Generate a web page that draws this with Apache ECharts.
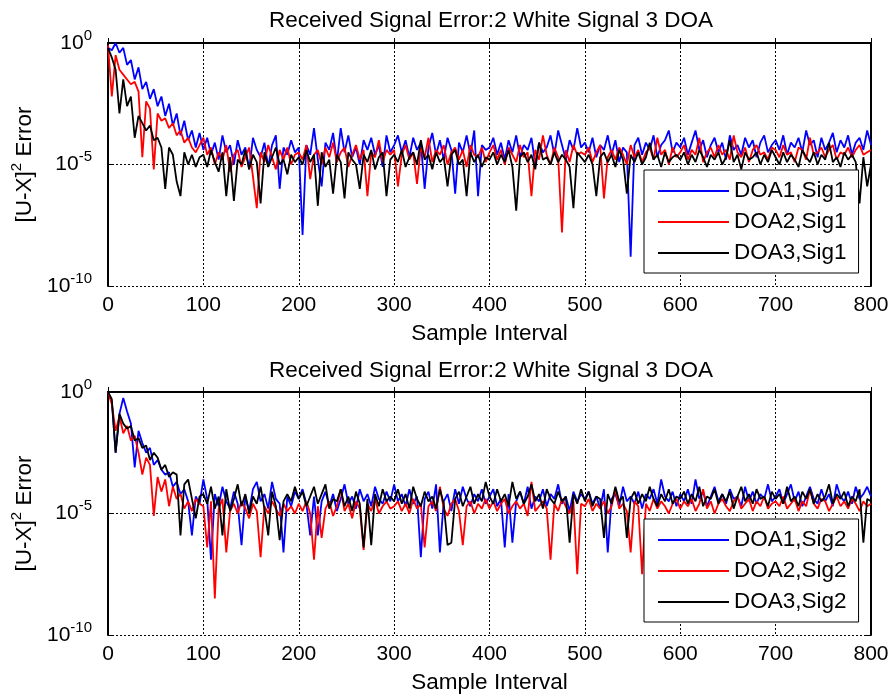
<!DOCTYPE html>
<html lang="en" style="height: 100%;width: 100%">
<head>
    <meta charset="utf-8">
</head>
<body style="height: 100%;width: 100%; margin: 0; background: #fff">
<div id="container" style="width: 893px;height: 700px;"></div>
<script type="text/javascript" src="https://registry.npmmirror.com/echarts/5.5.1/files/dist/echarts.min.js"></script>
<script type="text/javascript">
    // sample index of each plotted point (every 4th sample of 0..800)
    var samples = [
        0,4,8,12,16,20,24,28,32,36,40,44,48,52,56,60,64,68,72,76,80,84,88,92,96,
        100,104,108,112,116,120,124,128,132,136,140,144,148,152,156,160,164,168,172,176,180,184,188,192,196,
        200,204,208,212,216,220,224,228,232,236,240,244,248,252,256,260,264,268,272,276,280,284,288,292,296,
        300,304,308,312,316,320,324,328,332,336,340,344,348,352,356,360,364,368,372,376,380,384,388,392,396,
        400,404,408,412,416,420,424,428,432,436,440,444,448,452,456,460,464,468,472,476,480,484,488,492,496,
        500,504,508,512,516,520,524,528,532,536,540,544,548,552,556,560,564,568,572,576,580,584,588,592,596,
        600,604,608,612,616,620,624,628,632,636,640,644,648,652,656,660,664,668,672,676,680,684,688,692,696,
        700,704,708,712,716,720,724,728,732,736,740,744,748,752,756,760,764,768,772,776,780,784,788,792,796,
        800
    ];

    // log10 of the squared error (the exponent the y axis shows)
    var doa1Sig1 = [
        -0.2,-0.3,0.0,-0.4,-0.2,-0.9,-0.7,-1.5,-1.0,-1.9,-1.6,-2.3,-1.9,-2.6,-2.2,-3.0,-2.5,-3.4,-2.9,-3.8,-3.2,-4.0,-3.6,-4.3,-3.7,
        -4.4,-3.9,-4.6,-4.1,-4.8,-3.8,-4.5,-4.2,-5.0,-4.0,-4.6,-4.3,-5.2,-3.9,-4.4,-4.7,-4.1,-5.1,-4.2,-3.8,-6.0,-4.3,-4.6,-4.0,-4.5,
        -4.3,-7.9,-4.2,-4.6,-3.5,-4.8,-5.9,-4.1,-4.4,-3.7,-4.9,-3.5,-4.5,-3.8,-4.7,-4.3,-5.0,-4.0,-4.4,-3.9,-4.6,-4.2,-5.1,-3.8,-4.5,
        -4.2,-3.8,-4.5,-4.0,-4.7,-3.9,-4.4,-4.1,-6.0,-4.3,-3.7,-4.6,-4.0,-4.8,-3.9,-4.4,-6.2,-4.1,-4.5,-3.8,-4.6,-3.6,-6.3,-4.2,-4.4,
        -4.3,-3.9,-4.6,-4.1,-4.8,-4.0,-4.5,-3.8,-4.7,-4.2,-4.4,-3.9,-5.0,-4.1,-4.5,-4.3,-3.8,-4.6,-3.6,-4.2,-4.8,-4.0,-4.4,-3.5,-4.3,
        -4.1,-4.5,-3.9,-4.7,-4.2,-4.4,-3.8,-4.6,-4.0,-4.9,-4.3,-4.5,-8.8,-4.2,-3.9,-4.6,-4.1,-4.4,-3.8,-4.7,-4.2,-4.0,-3.6,-4.5,-4.1,
        -4.3,-3.9,-4.6,-4.1,-3.6,-4.4,-4.0,-4.7,-4.2,-3.9,-4.5,-4.1,-4.8,-3.8,-4.4,-4.2,-4.6,-3.9,-4.3,-4.0,-4.7,-4.1,-3.8,-4.5,-4.2,
        -4.0,-4.4,-3.8,-4.6,-4.1,-4.3,-3.9,-4.5,-3.6,-4.2,-4.0,-4.7,-3.9,-4.4,-4.1,-3.7,-4.5,-4.0,-4.3,-3.8,-4.6,-4.1,-3.9,-4.4,-3.6,
        -4.2
    ];
    var doa2Sig1 = [
        -0.1,-2.2,-0.5,-1.1,-1.3,-1.5,-1.7,-1.6,-2.0,-4.7,-2.4,-2.7,-5.2,-2.9,-3.2,-3.1,-3.5,-3.3,-3.8,-3.6,-4.1,-3.9,-4.3,-4.5,-4.2,
        -3.9,-4.6,-4.3,-5.0,-4.5,-4.8,-4.2,-5.3,-4.6,-4.4,-5.1,-4.7,-4.3,-5.5,-6.8,-4.5,-4.9,-4.2,-4.7,-5.2,-4.4,-4.8,-4.3,-5.0,-4.6,
        -4.5,-4.8,-4.2,-5.6,-4.6,-4.4,-5.0,-4.3,-4.7,-4.1,-4.9,-4.5,-4.3,-5.1,-4.6,-4.2,-4.8,-4.4,-6.3,-4.5,-4.7,-4.0,-4.9,-4.4,-4.6,
        -4.4,-5.9,-4.6,-4.2,-4.8,-4.5,-5.8,-4.3,-4.7,-3.9,-4.9,-4.4,-4.6,-4.2,-5.0,-4.5,-4.3,-4.8,-4.4,-5.1,-4.2,-4.6,-4.7,-4.3,-4.9,
        -4.5,-4.2,-4.8,-4.4,-5.0,-4.3,-4.6,-4.9,-4.2,-4.7,-4.5,-6.3,-4.4,-4.8,-3.8,-4.6,-5.0,-4.3,-4.7,-7.8,-4.4,-4.9,-4.2,-4.6,-4.5,
        -4.6,-4.3,-4.9,-4.5,-4.2,-6.4,-4.7,-4.4,-4.8,-4.3,-4.6,-5.0,-4.2,-4.7,-4.4,-4.9,-4.5,-4.3,-4.8,-3.9,-4.6,-4.4,-5.0,-4.3,-4.7,
        -4.5,-4.2,-4.8,-4.4,-4.6,-3.9,-4.9,-4.5,-4.3,-4.7,-4.2,-4.6,-4.4,-4.8,-3.8,-4.5,-4.7,-4.3,-4.9,-4.4,-4.2,-4.6,-4.5,-4.8,-4.3,
        -4.4,-4.7,-4.2,-4.6,-4.5,-4.9,-4.3,-4.4,-4.8,-3.9,-4.6,-4.5,-4.3,-4.7,-4.4,-4.2,-4.8,-4.5,-4.6,-4.3,-4.7,-4.4,-4.2,-4.6,-4.5,
        -4.4
    ];
    var doa3Sig1 = [
        -0.2,-0.6,-1.1,-2.9,-1.5,-2.6,-2.2,-3.9,-3.0,-3.3,-3.6,-3.4,-4.0,-3.9,-4.3,-6.0,-4.3,-4.6,-5.7,-6.3,-4.5,-5.0,-4.6,-5.1,-4.7,
        -4.6,-5.1,-4.4,-4.9,-5.3,-4.5,-6.3,-4.7,-6.5,-4.8,-5.0,-4.4,-5.2,-4.6,-4.9,-6.6,-4.5,-5.1,-4.7,-4.3,-5.0,-4.8,-5.4,-4.6,-4.9,
        -4.7,-5.0,-4.4,-4.9,-4.6,-6.7,-4.5,-5.1,-4.8,-6.2,-4.6,-4.9,-6.4,-4.5,-4.8,-5.0,-6.0,-4.6,-4.9,-4.4,-5.2,-4.7,-4.5,-6.3,-4.8,
        -4.6,-4.9,-4.4,-5.1,-4.7,-4.5,-5.0,-4.0,-4.8,-4.6,-5.2,-4.5,-4.9,-4.7,-5.9,-4.6,-4.4,-5.0,-4.8,-6.3,-4.5,-4.9,-4.6,-5.1,-4.7,
        -4.8,-4.5,-5.0,-4.6,-4.9,-4.4,-5.1,-6.9,-4.7,-4.5,-4.9,-4.6,-5.2,-4.1,-4.8,-4.7,-5.0,-4.5,-4.9,-4.6,-4.8,-5.1,-6.8,-4.5,-4.7,
        -4.9,-4.6,-5.0,-6.3,-4.7,-4.5,-4.9,-4.6,-5.1,-4.4,-4.8,-6.2,-4.6,-4.9,-4.5,-5.0,-4.7,-4.1,-4.8,-4.6,-5.1,-4.5,-4.9,-4.7,-4.6,
        -4.8,-4.5,-5.0,-4.6,-4.9,-4.4,-4.7,-5.1,-4.6,-4.8,-4.5,-5.0,-4.7,-4.0,-4.9,-4.6,-5.2,-4.5,-4.8,-4.7,-4.5,-5.0,-4.6,-4.9,-4.4,
        -4.7,-5.0,-4.5,-4.9,-4.6,-4.8,-5.1,-4.4,-4.7,-4.9,-4.5,-5.0,-4.6,-4.8,-4.1,-4.9,-4.7,-5.1,-4.5,-4.8,-4.6,-4.9,-6.6,-4.7,-5.9,
        -5.0
    ];
    var doa1Sig2 = [
        0.0,-0.4,-2.5,-0.9,-0.25,-0.8,-1.3,-3.1,-1.6,-2.1,-2.5,-2.3,-3.0,-2.8,-3.2,-3.4,-3.3,-3.9,-3.7,-4.2,-4.0,-4.5,-5.9,-4.3,-4.6,
        -3.6,-4.4,-6.9,-4.2,-4.7,-3.9,-4.5,-4.8,-4.1,-4.6,-6.3,-4.3,-4.9,-4.0,-3.7,-4.5,-4.2,-4.8,-3.7,-4.4,-4.6,-6.6,-4.3,-4.7,-4.1,
        -4.4,-4.0,-4.6,-5.9,-4.3,-5.9,-4.5,-4.1,-4.7,-4.2,-4.9,-4.4,-3.8,-4.6,-4.3,-4.8,-4.0,-4.5,-4.2,-4.7,-3.9,-4.4,-4.6,-4.1,-4.5,
        -3.8,-4.5,-4.2,-4.7,-4.0,-4.6,-4.3,-6.8,-4.4,-4.1,-4.8,-3.8,-6.6,-4.5,-4.2,-4.9,-4.0,-4.6,-3.9,-4.4,-4.7,-4.2,-4.5,-4.0,-4.6,
        -4.3,-4.0,-4.7,-4.4,-6.4,-4.2,-6.2,-4.5,-4.1,-4.6,-3.9,-4.8,-4.3,-4.5,-4.0,-4.7,-4.2,-4.4,-3.8,-4.6,-4.3,-4.9,-4.1,-4.5,-4.2,
        -4.4,-4.1,-4.6,-4.3,-4.8,-4.0,-6.6,-4.4,-4.2,-4.7,-3.9,-4.5,-4.3,-4.6,-4.1,-4.8,-4.2,-4.4,-4.0,-4.6,-3.6,-4.3,-4.5,-4.1,-4.7,
        -4.2,-4.5,-4.0,-4.6,-3.6,-4.4,-4.1,-4.7,-4.3,-3.9,-4.5,-4.2,-4.6,-4.0,-4.4,-4.3,-4.7,-3.9,-4.5,-4.1,-4.6,-4.2,-4.4,-3.8,-4.5,
        -4.3,-4.0,-4.6,-4.2,-3.8,-4.5,-4.1,-4.7,-4.3,-3.9,-4.4,-4.6,-4.0,-4.5,-4.2,-4.7,-3.8,-4.3,-4.5,-4.1,-4.6,-3.9,-4.4,-4.2,-3.9,
        -4.3
    ];
    var doa2Sig2 = [
        0.0,-0.5,-1.6,-1.0,-1.7,-1.4,-2.0,-1.8,-2.5,-3.4,-2.7,-3.0,-5.1,-3.5,-4.1,-3.6,-4.7,-3.9,-4.4,-4.2,-4.8,-4.5,-4.9,-4.4,-4.6,
        -4.7,-6.4,-4.5,-8.5,-4.8,-4.4,-6.6,-4.9,-4.6,-5.0,-4.5,-4.8,-5.2,-4.6,-4.9,-6.8,-4.7,-5.0,-4.5,-4.8,-5.1,-4.6,-4.9,-4.7,-5.0,
        -4.6,-4.9,-4.5,-5.0,-6.9,-4.7,-6.0,-4.8,-4.5,-5.1,-4.7,-4.0,-4.9,-4.6,-5.2,-4.5,-4.8,-6.5,-4.6,-4.9,-4.4,-5.0,-4.7,-4.5,-4.8,
        -4.7,-4.5,-4.9,-4.6,-5.0,-4.4,-4.8,-4.6,-6.4,-4.7,-4.5,-4.9,-3.9,-4.8,-5.1,-4.6,-4.4,-4.9,-6.3,-4.7,-4.5,-5.0,-4.6,-4.8,-4.4,
        -4.8,-4.5,-4.9,-4.6,-4.4,-5.0,-4.7,-4.5,-4.8,-4.6,-5.1,-3.7,-4.9,-4.7,-4.5,-4.8,-6.9,-4.6,-4.9,-4.4,-4.7,-5.0,-4.5,-7.5,-4.6,
        -4.7,-4.4,-4.9,-4.6,-4.8,-4.5,-5.0,-4.7,-4.0,-4.8,-4.6,-4.9,-6.6,-4.5,-4.7,-7.5,-4.6,-4.9,-4.4,-4.8,-4.5,-4.7,-5.0,-4.6,-4.4,
        -4.8,-4.5,-4.7,-4.4,-4.9,-4.6,-4.0,-4.8,-4.5,-5.0,-4.6,-4.4,-4.7,-4.9,-4.5,-4.3,-4.8,-4.6,-4.4,-4.9,-4.5,-4.7,-4.3,-4.8,-4.6,
        -4.5,-4.7,-4.3,-4.8,-4.6,-4.4,-4.9,-4.5,-4.7,-4.0,-4.6,-4.8,-4.4,-4.5,-4.9,-4.6,-4.3,-4.7,-4.5,-4.8,-4.4,-4.6,-4.9,-4.5,-4.7,
        -4.6
    ];
    var doa3Sig2 = [
        0.0,-0.3,-2.5,-0.9,-1.3,-1.5,-1.4,-2.0,-1.9,-2.3,-2.2,-2.8,-2.5,-2.7,-3.2,-3.0,-3.5,-3.3,-3.4,-5.9,-3.8,-3.6,-4.4,-5.2,-4.3,
        -4.2,-4.6,-3.9,-4.8,-4.3,-5.9,-4.0,-4.9,-4.4,-3.8,-4.7,-4.2,-5.0,-4.3,-4.6,-3.9,-4.8,-5.9,-4.1,-4.7,-6.1,-4.5,-4.2,-4.5,-3.9,
        -4.4,-4.1,-4.7,-4.3,-3.9,-4.6,-4.2,-3.8,-4.8,-4.4,-4.5,-4.0,-4.7,-4.3,-4.9,-4.1,-4.6,-6.4,-4.4,-6.3,-4.2,-4.7,-4.0,-4.5,-4.3,
        -4.5,-4.0,-4.6,-4.2,-4.8,-3.9,-4.4,-4.7,-4.1,-4.5,-4.3,-4.8,-4.0,-4.6,-6.3,-6.2,-4.4,-4.1,-4.7,-4.3,-3.9,-4.6,-4.2,-4.5,-3.7,
        -4.3,-4.6,-4.0,-4.5,-4.2,-4.7,-3.7,-4.4,-4.1,-4.6,-4.3,-3.8,-4.5,-4.2,-4.8,-4.0,-4.4,-4.6,-4.1,-4.5,-4.3,-6.2,-4.2,-4.6,-4.0,
        -4.5,-4.1,-4.7,-4.3,-4.4,-6.0,-4.2,-4.6,-3.9,-4.5,-4.3,-6.0,-4.4,-4.1,-4.6,-4.2,-4.5,-3.9,-4.4,-4.7,-4.2,-4.5,-4.0,-4.6,-4.3,
        -4.4,-4.1,-4.6,-4.2,-4.5,-3.9,-4.7,-4.3,-4.4,-4.0,-4.6,-4.2,-4.5,-4.1,-4.8,-4.3,-3.9,-4.5,-4.2,-4.6,-4.0,-4.4,-4.3,-4.7,-4.1,
        -4.4,-4.2,-4.6,-3.9,-4.5,-4.3,-4.7,-4.1,-4.4,-4.0,-4.6,-4.2,-4.5,-4.3,-3.8,-4.6,-4.2,-4.4,-4.1,-4.7,-4.3,-4.5,-4.0,-6.2,-4.4,
        -4.5
    ];

    var namesSig1 = ['DOA1,Sig1', 'DOA2,Sig1', 'DOA3,Sig1'];
    var namesSig2 = ['DOA1,Sig2', 'DOA2,Sig2', 'DOA3,Sig2'];
    var lineColors = ['#0000ff', '#ff0000', '#000000'];
    var titleText = 'Received Signal Error:2 White Signal 3 DOA';

    var font = "'Liberation Sans', Arial, Helvetica, sans-serif";
    var supStyle = { fontSize: 15, padding: [0, 0, 15, 0], color: '#000', fontFamily: font };

    var dom = document.getElementById('container');
    var myChart = echarts.init(dom, null, { renderer: 'canvas' });

    function toPoints(exps) {
        return exps.map(function (e, i) { return [samples[i], e]; });
    }

    function xAxes(grid) {
        return [
            {
                gridIndex: grid, type: 'value', min: 0, max: 800, interval: 100,
                name: 'Sample Interval', nameLocation: 'middle', nameGap: 36,
                nameTextStyle: { fontSize: 22.5, color: '#000', fontFamily: font },
                axisLine: { lineStyle: { color: '#000', width: 2 } },
                axisTick: { inside: true, length: 5, lineStyle: { color: '#000', width: 1 } },
                axisLabel: { fontSize: 21, color: '#000', margin: 9, fontFamily: font },
                splitLine: { show: true, lineStyle: { color: '#000', width: 1, type: [2, 2] } }
            },
            {
                gridIndex: grid, type: 'value', min: 0, max: 800, interval: 100, position: 'top',
                axisLine: { lineStyle: { color: '#000', width: 2 } },
                axisTick: { inside: true, length: 5, lineStyle: { color: '#000', width: 1 } },
                axisLabel: { show: false },
                splitLine: { show: false }
            }
        ];
    }

    // y is the exponent of 10, so the axis reads 10^-10 .. 10^0
    function yAxes(grid) {
        return [
            {
                gridIndex: grid, type: 'value', min: -10, max: 0, interval: 5,
                name: '[U-X]{sup|2} Error', nameLocation: 'middle', nameGap: 65,
                nameTextStyle: { fontSize: 22.5, color: '#000', fontFamily: font, rich: { sup: supStyle } },
                axisLine: { onZero: false, lineStyle: { color: '#000', width: 2 } },
                axisTick: { inside: true, length: 5, lineStyle: { color: '#000', width: 1 } },
                axisLabel: {
                    margin: 16, color: '#000', fontSize: 21, fontFamily: font,
                    formatter: function (v) {
                        return '{b|10}{sup|' + v + '}';
                    },
                    rich: { b: { fontSize: 21, color: '#000', fontFamily: font }, sup: supStyle }
                },
                splitLine: { show: true, lineStyle: { color: '#000', width: 1, type: [2, 2] } }
            },
            {
                gridIndex: grid, type: 'value', min: -10, max: 0, interval: 5, position: 'right',
                axisLine: { onZero: false, lineStyle: { color: '#000', width: 2 } },
                axisTick: { inside: true, length: 5, lineStyle: { color: '#000', width: 1 } },
                axisLabel: { show: false },
                splitLine: { show: false }
            }
        ];
    }

    function legendFor(names, top) {
        return {
            data: names, orient: 'vertical', left: 644, top: top,
            icon: 'rect', itemWidth: 71, itemHeight: 2, itemGap: 7,
            padding: [9, 12, 8, 14],
            borderColor: '#000', borderWidth: 1, backgroundColor: '#fff',
            textStyle: { fontSize: 22.5, lineHeight: 24, color: '#000', fontFamily: font },
            z: 10
        };
    }

    function lineSeries(name, exps, i, axis) {
        return {
            name: name, type: 'line', data: toPoints(exps),
            xAxisIndex: axis, yAxisIndex: axis,
            symbol: 'none', showSymbol: false,
            lineStyle: { color: lineColors[i], width: 1.8 },
            itemStyle: { color: lineColors[i] },
            z: 2 + i
        };
    }

    var option = {
        animation: false,
        backgroundColor: '#fff',
        textStyle: { fontFamily: font },
        title: [
            { text: titleText, left: 486, top: 4, textAlign: 'center',
              textStyle: { fontSize: 22.5, fontWeight: 'normal', color: '#000', fontFamily: font } },
            { text: titleText, left: 486, top: 354, textAlign: 'center',
              textStyle: { fontSize: 22.5, fontWeight: 'normal', color: '#000', fontFamily: font } }
        ],
        grid: [
            { left: 108, top: 43, width: 763, height: 243 },
            { left: 108, top: 392, width: 763, height: 243 }
        ],
        legend: [legendFor(namesSig1, 170), legendFor(namesSig2, 519)],
        xAxis: xAxes(0).concat(xAxes(1)),
        yAxis: yAxes(0).concat(yAxes(1)),
        series: [
            lineSeries(namesSig1[0], doa1Sig1, 0, 0),
            lineSeries(namesSig1[1], doa2Sig1, 1, 0),
            lineSeries(namesSig1[2], doa3Sig1, 2, 0),
            lineSeries(namesSig2[0], doa1Sig2, 0, 2),
            lineSeries(namesSig2[1], doa2Sig2, 1, 2),
            lineSeries(namesSig2[2], doa3Sig2, 2, 2)
        ]
    };
    myChart.setOption(option);
</script>
</body>
</html>
